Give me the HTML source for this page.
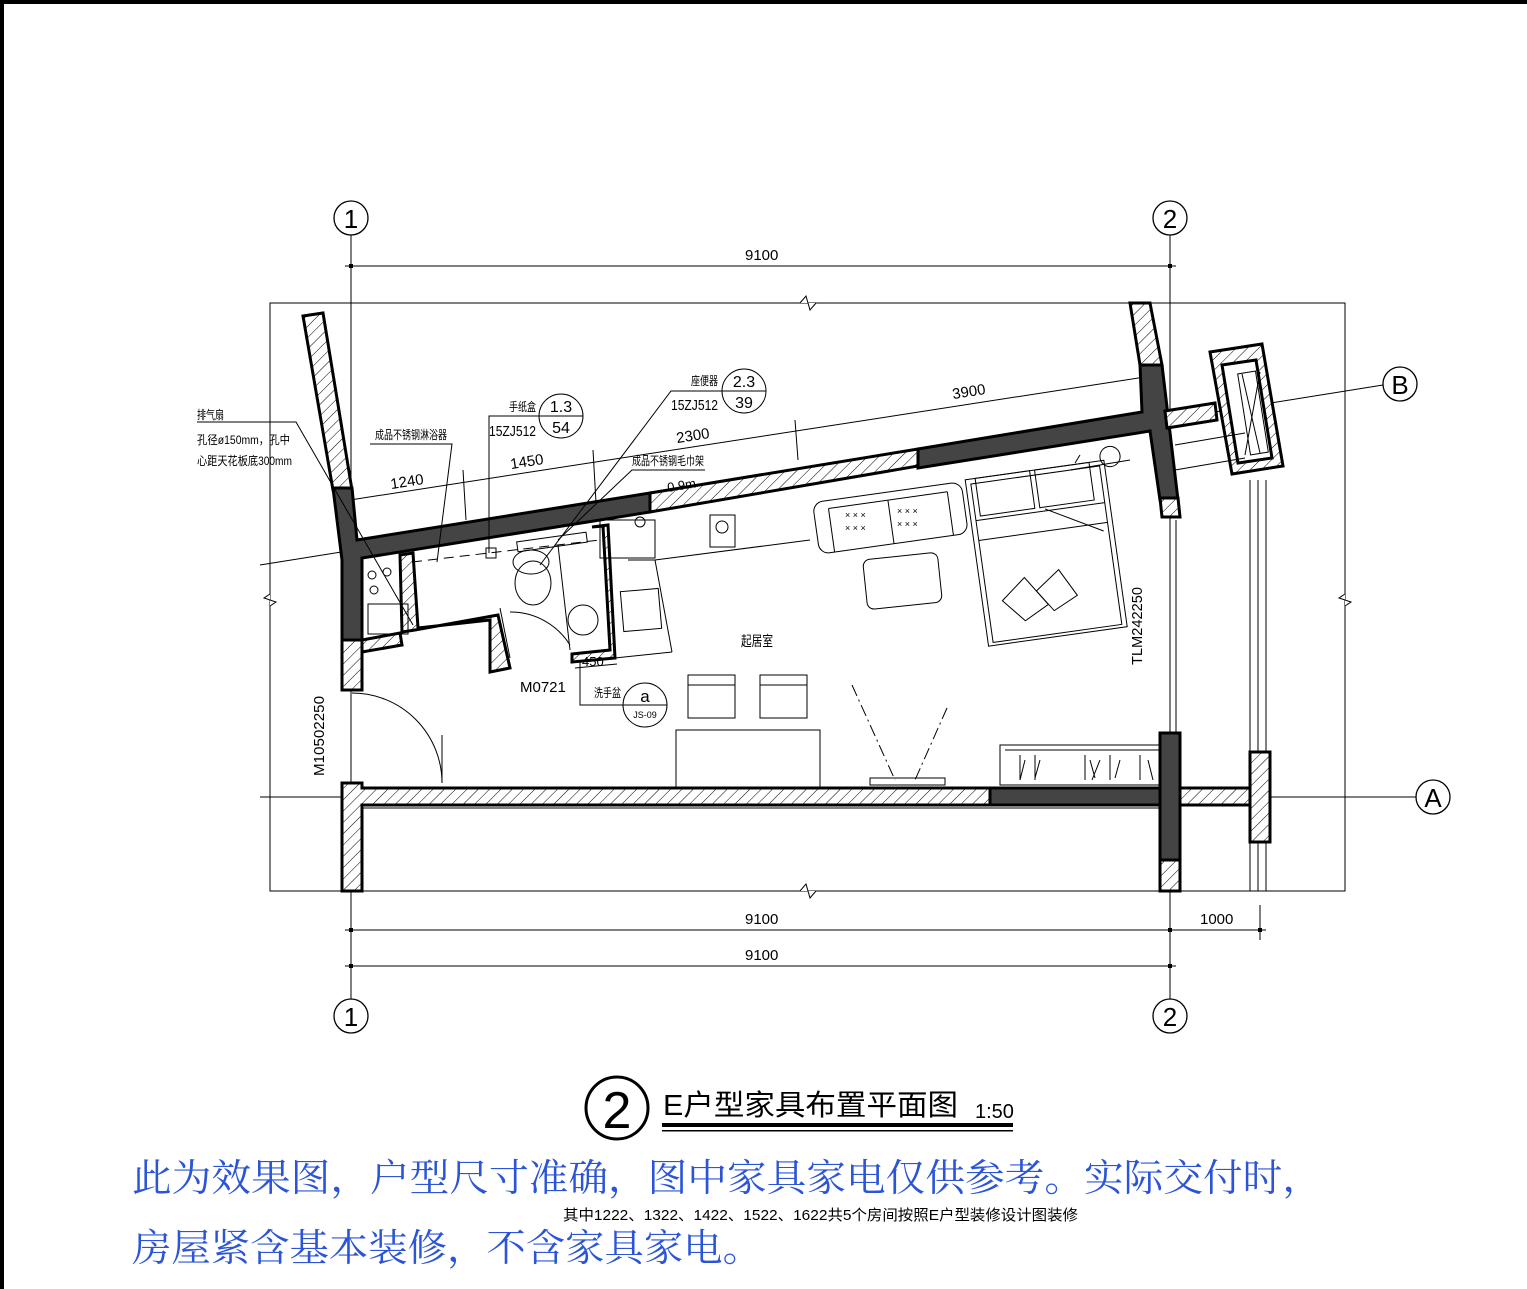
<!DOCTYPE html>
<html><head><meta charset="utf-8"><style>
html,body{margin:0;padding:0;background:#fff;}
body{width:1527px;height:1289px;overflow:hidden;position:relative;}
svg{position:absolute;left:0;top:0;}
.t{font-family:"Liberation Sans Narrow","Liberation Sans","Noto Sans CJK SC",sans-serif;fill:#000;}
.c{font-family:"Liberation Sans","Noto Sans CJK SC",sans-serif;fill:#000;}
</style></head><body>
<svg width="1527" height="1289" viewBox="0 0 1527 1289" xmlns="http://www.w3.org/2000/svg">
<defs>
<pattern id="h" patternUnits="userSpaceOnUse" width="8" height="8" patternTransform="rotate(45)">
<rect width="8" height="8" fill="#fff"/><line x1="0" y1="0" x2="0" y2="8" stroke="#000" stroke-width="1"/>
</pattern>
</defs>
<rect x="0" y="0" width="1527" height="4" fill="#000"/>
<rect x="0" y="0" width="4" height="1289" fill="#000"/>

<g fill="none" stroke="#000" stroke-width="1">
<rect x="270" y="303" width="1075" height="588"/>
<line x1="351" y1="235" x2="351" y2="1000"/>
<line x1="1170" y1="235" x2="1170" y2="1000"/>
<line x1="260" y1="797" x2="1416" y2="797"/>
<line x1="260" y1="565" x2="1383" y2="385"/>
<line x1="345" y1="266" x2="1176" y2="266"/>
<line x1="345" y1="930" x2="1266" y2="930"/>
<line x1="345" y1="966" x2="1176" y2="966"/>
<line x1="1260" y1="905" x2="1260" y2="940"/>
<line x1="350" y1="500" x2="1145" y2="377"/>
<line x1="463" y1="470" x2="466" y2="520"/>
<line x1="593" y1="450" x2="597" y2="520"/>
<line x1="795" y1="420" x2="798" y2="460"/>
</g>
<g fill="#000">
<rect x="349" y="264" width="4" height="4"/><rect x="1168" y="264" width="4" height="4"/>
<rect x="349" y="928" width="4" height="4"/><rect x="1168" y="928" width="4" height="4"/><rect x="1258" y="928" width="4" height="4"/>
<rect x="349" y="964" width="4" height="4"/><rect x="1168" y="964" width="4" height="4"/>
</g>
<g fill="#fff" stroke="#000" stroke-width="1">
<polyline points="800,303 806,296 810,310 816,303"/>
<polyline points="800,891 806,884 810,898 816,891"/>
<polyline points="270,594 264,598 276,602 270,606"/>
<polyline points="1345,594 1339,598 1351,602 1345,606"/>
</g>
<g fill="#fff" stroke="#000" stroke-width="1.3">
<circle cx="351" cy="218" r="17"/><circle cx="1170" cy="218" r="17"/>
<circle cx="351" cy="1016" r="17"/><circle cx="1170" cy="1016" r="17"/>
<circle cx="1400" cy="384" r="17"/><circle cx="1433" cy="797" r="17"/>
</g>
<g class="t" font-size="26" text-anchor="middle">
<text x="351" y="228">1</text><text x="1170" y="228">2</text>
<text x="351" y="1026">1</text><text x="1170" y="1026">2</text>
<text x="1400" y="394">B</text><text x="1433" y="807">A</text>
</g>

<g stroke="#000" stroke-width="3">
<polygon points="303,316 323,313 352,490 333,490" fill="url(#h)"/>
<polygon points="333,488 352,488 357,540 650,493 650,512 362,558 362,640 342,640 342,560" fill="#444"/>
<polygon points="650,493 918,449 918,466 650,512" fill="url(#h)"/>
<polygon points="918,449 1142,412 1140,365 1162,365 1178,500 1160,500 1150,431 918,468" fill="#444"/>
<polygon points="1130,303 1150,303 1162,365 1140,365" fill="url(#h)"/>
<polygon points="1160,498 1178,498 1180,517 1162,517" fill="url(#h)"/>
<polygon points="342,640 362,640 362,690 342,690" fill="url(#h)"/>
<polygon points="342,783 362,783 362,788 990,788 990,805 362,805 362,891 342,891" fill="url(#h)"/>
<rect x="990" y="788" width="170" height="17" fill="#444"/>
<rect x="1160" y="733" width="20" height="127" fill="#444"/>
<rect x="1160" y="860" width="20" height="31" fill="url(#h)"/>
<rect x="1180" y="788" width="70" height="17" fill="url(#h)"/>
<rect x="1250" y="752" width="20" height="90" fill="url(#h)"/>
<polygon points="1165,411 1215,403 1217,420 1167,428" fill="url(#h)"/>
<polygon points="1210,352 1262,344 1283,466 1232,474" fill="url(#h)"/>
<polygon points="1222,365 1256,360 1272,458 1238,463" fill="#fff"/>
<polygon points="400,555 413,553 418,628 490,620 490,672 510,668 498,615 415,630 402,632" fill="url(#h)"/>
<polygon points="362,640 400,633 402,645 362,652" fill="url(#h)"/>
<polygon points="592,527 603,526 610,650 572,654 572,662 615,658 608,525" fill="url(#h)"/>
</g>
<g fill="none" stroke="#000" stroke-width="1">
<rect x="1244" y="372" width="18" height="82" transform="rotate(-9 1253 413)"/>
<line x1="1242" y1="374" x2="1260" y2="453"/><line x1="1260" y1="372" x2="1245" y2="455"/>
<line x1="1170" y1="520" x2="1170" y2="733"/><line x1="1176" y1="520" x2="1176" y2="733"/>
<line x1="1250" y1="480" x2="1250" y2="752"/><line x1="1258" y1="480" x2="1258" y2="752"/><line x1="1266" y1="480" x2="1266" y2="752"/>
<line x1="1250" y1="842" x2="1250" y2="891"/><line x1="1258" y1="842" x2="1258" y2="891"/><line x1="1266" y1="842" x2="1266" y2="891"/>
<line x1="1175" y1="445" x2="1245" y2="433"/><line x1="1175" y1="470" x2="1245" y2="458"/>
<line x1="362" y1="808" x2="1160" y2="808"/>
<path d="M352,693 A90,90 0 0 1 442,783"/>
<line x1="442" y1="735" x2="442" y2="783"/>
<circle cx="372" cy="575" r="4"/><circle cx="387" cy="572" r="4"/><circle cx="374" cy="590" r="4"/>
<rect x="368" y="604" width="40" height="30"/>
<ellipse cx="533" cy="583" rx="18" ry="22"/><ellipse cx="531" cy="562" rx="18" ry="12"/>
<circle cx="583" cy="620" r="15"/>
<rect x="517" y="537" width="70" height="10" transform="rotate(-8 552 542)"/>
<rect x="486" y="548" width="10" height="10"/>
<line x1="412" y1="562" x2="600" y2="540" stroke-dasharray="10 6"/>
<line x1="500" y1="608" x2="510" y2="658"/>
<line x1="558" y1="545" x2="570" y2="650"/>
<path d="M510,612 A70,70 0 0 1 570,645"/>
<rect x="600" y="520" width="55" height="38"/>
<circle cx="640" cy="522" r="5"/>
<rect x="622" y="590" width="38" height="40" transform="rotate(-5 641 610)"/>
<polyline points="628,560 655,560 810,540"/>
<line x1="655" y1="560" x2="672" y2="652"/>
<line x1="615" y1="658" x2="672" y2="652"/>
<rect x="710" y="515" width="25" height="32"/>
<circle cx="722" cy="527" r="6"/>
<g transform="rotate(-8 890 515)">
<rect x="815" y="492" width="150" height="52" rx="10"/>
<line x1="830" y1="500" x2="950" y2="500"/>
<line x1="890" y1="500" x2="890" y2="544"/>
<line x1="830" y1="500" x2="830" y2="544"/><line x1="950" y1="500" x2="950" y2="544"/>
</g>
<g font-size="9" class="t" stroke="none">
<text x="845" y="518">× × ×</text><text x="845" y="531">× × ×</text><text x="897" y="514">× × ×</text><text x="897" y="527">× × ×</text>
</g>
<rect x="865" y="556" width="75" height="50" rx="7" transform="rotate(-6 902 581)"/>
<g transform="rotate(-8 1040 545)">
<rect x="975" y="470" width="140" height="168"/>
<rect x="980" y="475" width="130" height="160"/>
<line x1="980" y1="512" x2="1110" y2="512"/>
<line x1="980" y1="532" x2="1110" y2="532"/>
<rect x="985" y="470" width="55" height="38"/><rect x="1045" y="470" width="55" height="38"/>
<polygon points="995,595 1020,575 1040,605 1015,618"/><polygon points="1030,590 1055,572 1070,600 1045,612"/>
<line x1="1050" y1="510" x2="1105" y2="540"/>
</g>
<path d="M1070,470 l60,-10 M1075,463 l5,-8 M1100,458 a10,10 0 1 0 20,-3 a10,10 0 1 0 -20,3"/>
<rect x="688" y="675" width="47" height="43"/><line x1="688" y1="685" x2="735" y2="685"/>
<rect x="760" y="675" width="47" height="43"/><line x1="760" y1="685" x2="807" y2="685"/>
<polyline points="676,788 676,730 820,730 820,788"/>
<line x1="852" y1="685" x2="895" y2="780" stroke-dasharray="12 4 2 4"/>
<line x1="947" y1="708" x2="915" y2="780" stroke-dasharray="12 4 2 4"/>
<rect x="870" y="778" width="75" height="7"/>
<rect x="1000" y="745" width="160" height="40"/>
<line x1="1005" y1="750" x2="1160" y2="750"/>
<path d="M1020,755 v25 M1025,760 l-5,20 M1035,755 v25 M1040,760 l-5,18 M1085,755 v25 M1090,760 l5,18 M1100,760 l-8,20 M1110,755 v25 M1120,760 l-5,18 M1140,755 v25 M1148,760 l5,20"/>
<polyline points="197,422 296,422 413,625"/>
<polyline points="370,444 452,444 437,562"/>
<polyline points="583,416 489,416 489,553"/>
<polyline points="744,391 671,391 540,565"/>
<polyline points="705,470 632,470 558,540"/>
<polyline points="580,660 580,705 623,705"/>
<line x1="575" y1="668" x2="617" y2="664"/>
<circle cx="561" cy="416" r="22" fill="#fff"/><line x1="539" y1="416" x2="583" y2="416"/>
<circle cx="744" cy="391" r="22" fill="#fff"/><line x1="722" y1="391" x2="766" y2="391"/>
<circle cx="645" cy="705" r="22" fill="#fff"/><line x1="623" y1="705" x2="667" y2="705"/>
</g>

<g class="t" font-size="15">
<text x="745" y="260">9100</text>
<text x="745" y="924">9100</text>
<text x="1200" y="924">1000</text>
<text x="745" y="960">9100</text>
<text x="390" y="487" transform="rotate(-9 404 480)">1240</text>
<text x="510" y="467" transform="rotate(-9 524 461)">1450</text>
<text x="676" y="441" transform="rotate(-9 690 435)">2300</text>
<text x="952" y="397" transform="rotate(-9 966 391)">3900</text>
<text x="667" y="490" font-size="13" transform="rotate(-9 680 485)">0.9m</text>
<text x="671" y="410" textLength="47" lengthAdjust="spacingAndGlyphs">15ZJ512</text>
<text x="489" y="436" textLength="47" lengthAdjust="spacingAndGlyphs">15ZJ512</text>
<text x="520" y="692">M0721</text>
<text x="582" y="666" font-size="13">450</text>
</g>
<g class="t" text-anchor="middle">
<text x="561" y="412" font-size="16">1.3</text><text x="561" y="433" font-size="16">54</text>
<text x="744" y="387" font-size="16">2.3</text><text x="744" y="408" font-size="16">39</text>
<text x="645" y="702" font-size="17">a</text>
<text x="645" y="718" font-size="9">JS-09</text>
</g>
<g class="t" font-size="15">
<text x="0" y="0" transform="translate(324,776) rotate(-90)" textLength="80" lengthAdjust="spacingAndGlyphs">M10502250</text>
<text x="0" y="0" transform="translate(1142,665) rotate(-90)" textLength="78" lengthAdjust="spacingAndGlyphs">TLM242250</text>
</g>
<g class="c" font-size="12">
<text x="197" y="419" textLength="27" lengthAdjust="spacingAndGlyphs">排气扇</text>
<text x="197" y="444" textLength="93" lengthAdjust="spacingAndGlyphs">孔径ø150mm，孔中</text>
<text x="197" y="465" textLength="95" lengthAdjust="spacingAndGlyphs">心距天花板底300mm</text>
<text x="375" y="439" textLength="72" lengthAdjust="spacingAndGlyphs">成品不锈钢淋浴器</text>
<text x="509" y="411" textLength="27" lengthAdjust="spacingAndGlyphs">手纸盒</text>
<text x="691" y="385" textLength="27" lengthAdjust="spacingAndGlyphs">座便器</text>
<text x="632" y="465" textLength="72" lengthAdjust="spacingAndGlyphs">成品不锈钢毛巾架</text>
<text x="594" y="697" textLength="27" lengthAdjust="spacingAndGlyphs">洗手盆</text>
<text x="741" y="646" font-size="14" textLength="32" lengthAdjust="spacingAndGlyphs">起居室</text>
</g>

<circle cx="617" cy="1108" r="31" fill="none" stroke="#000" stroke-width="3"/>
<text x="617" y="1128" text-anchor="middle" class="t" font-size="52">2</text>
<text x="663" y="1115" class="c" font-size="29" textLength="295" lengthAdjust="spacingAndGlyphs">E户型家具布置平面图</text>
<text x="975" y="1118" class="t" font-size="20">1:50</text>
<rect x="662" y="1123" width="351" height="4" fill="#000"/>
<rect x="662" y="1130" width="351" height="1.5" fill="#000"/>

<g font-family="'Liberation Serif','Noto Serif CJK SC',serif" fill="#2b55d6" font-size="38">
<text x="132" y="1191" textLength="1190" lengthAdjust="spacingAndGlyphs">此为效果图，户型尺寸准确，图中家具家电仅供参考。实际交付时，</text>
<text x="132" y="1261" textLength="630" lengthAdjust="spacingAndGlyphs">房屋紧含基本装修，不含家具家电。</text>
</g>
<text x="563" y="1220" class="c" font-size="15" textLength="515" lengthAdjust="spacingAndGlyphs">其中1222、1322、1422、1522、1622共5个房间按照E户型装修设计图装修</text>
</svg>
</body></html>
